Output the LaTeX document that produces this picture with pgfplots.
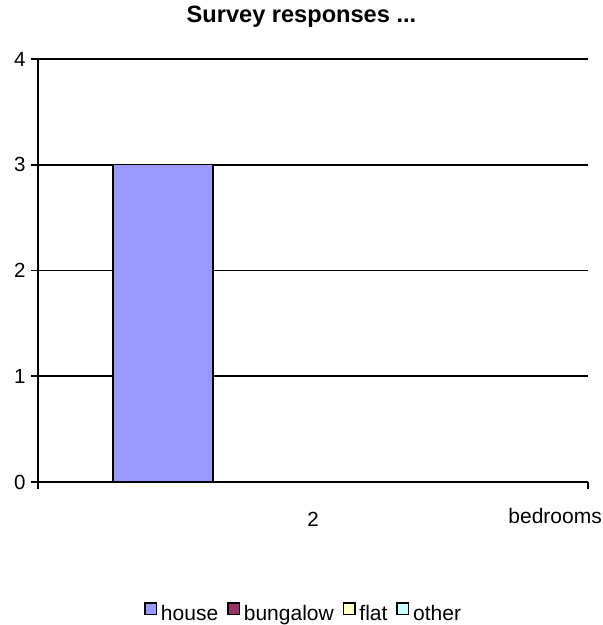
\documentclass[border=0pt]{standalone}
\usepackage{pgfplots}
\pgfplotsset{compat=1.18}
\usepackage{fontspec}
\setmainfont{Liberation Sans}
\definecolor{house}{HTML}{9999FF}
\definecolor{bungalow}{HTML}{993366}
\definecolor{flat}{HTML}{FFFFCC}
\definecolor{other}{HTML}{CCFFFF}
\begin{document}
\begin{tikzpicture}[x=1bp,y=1bp]
\path[use as bounding box] (0,0) rectangle (603,625);
\begin{axis}[
  at={(38bp,143bp)}, anchor=south west,
  scale only axis, width=550bp, height=423bp,
  xmin=-0.5, xmax=0.5, ymin=0, ymax=4,
  axis x line*=bottom, axis y line*=left,
  axis line style={line width=1.6bp, black},
  ytick={0,1,2,3,4},
  ymajorgrids, grid style={black, line width=1.6bp},
  tick align=outside, major tick length=7bp,
  tick style={black, line width=1.6bp},
  xtick={0}, xticklabels={2},
  xtick style={draw=none},
  extra x ticks={-0.5,0.5}, extra x tick labels={},
  extra x tick style={xtick style={draw=black, line width=1.6bp}, grid=none},
  /pgf/number format/assume math mode=true,
  tick label style={font=\fontsize{20.5bp}{24bp}\selectfont},
  yticklabel style={xshift=-2bp},
  xticklabel style={yshift=-20bp},
  xlabel={bedrooms},
  xlabel style={at={(axis description cs:1,0)}, anchor=north east, xshift=17bp, yshift=-23bp, font=\fontsize{21bp}{24bp}\selectfont, inner sep=3bp},
  title={\textbf{Survey responses ...}},
  title style={at={(axis description cs:0.479,1)}, anchor=center, yshift=36bp, font=\fontsize{23.6bp}{28bp}\selectfont},
  ybar=0pt, bar width=0.1818,
  legend columns=4,
  legend style={at={(axis description cs:0.483,-0.311)}, anchor=center, draw=none, font=\fontsize{21bp}{24bp}\selectfont, /tikz/every even column/.append style={column sep=7bp}, legend cell align=left},
  legend image code/.code={\path[draw=none, fill=none] (0bp,-11bp) rectangle (14bp,11bp); \draw[#1, line width=1.4bp, draw=black] (0bp,-0.75bp) rectangle (11.5bp,10.75bp);},
]
\addplot[fill=house, draw=black, line width=1.4bp] coordinates {(0,3)};
\addplot[fill=bungalow, draw=black, line width=1.4bp] coordinates {(0,0)};
\addplot[fill=flat, draw=black, line width=1.4bp] coordinates {(0,0)};
\addplot[fill=other, draw=black, line width=1.4bp] coordinates {(0,0)};
\legend{house,bungalow,flat,other}
\end{axis}
\end{tikzpicture}
\end{document}
